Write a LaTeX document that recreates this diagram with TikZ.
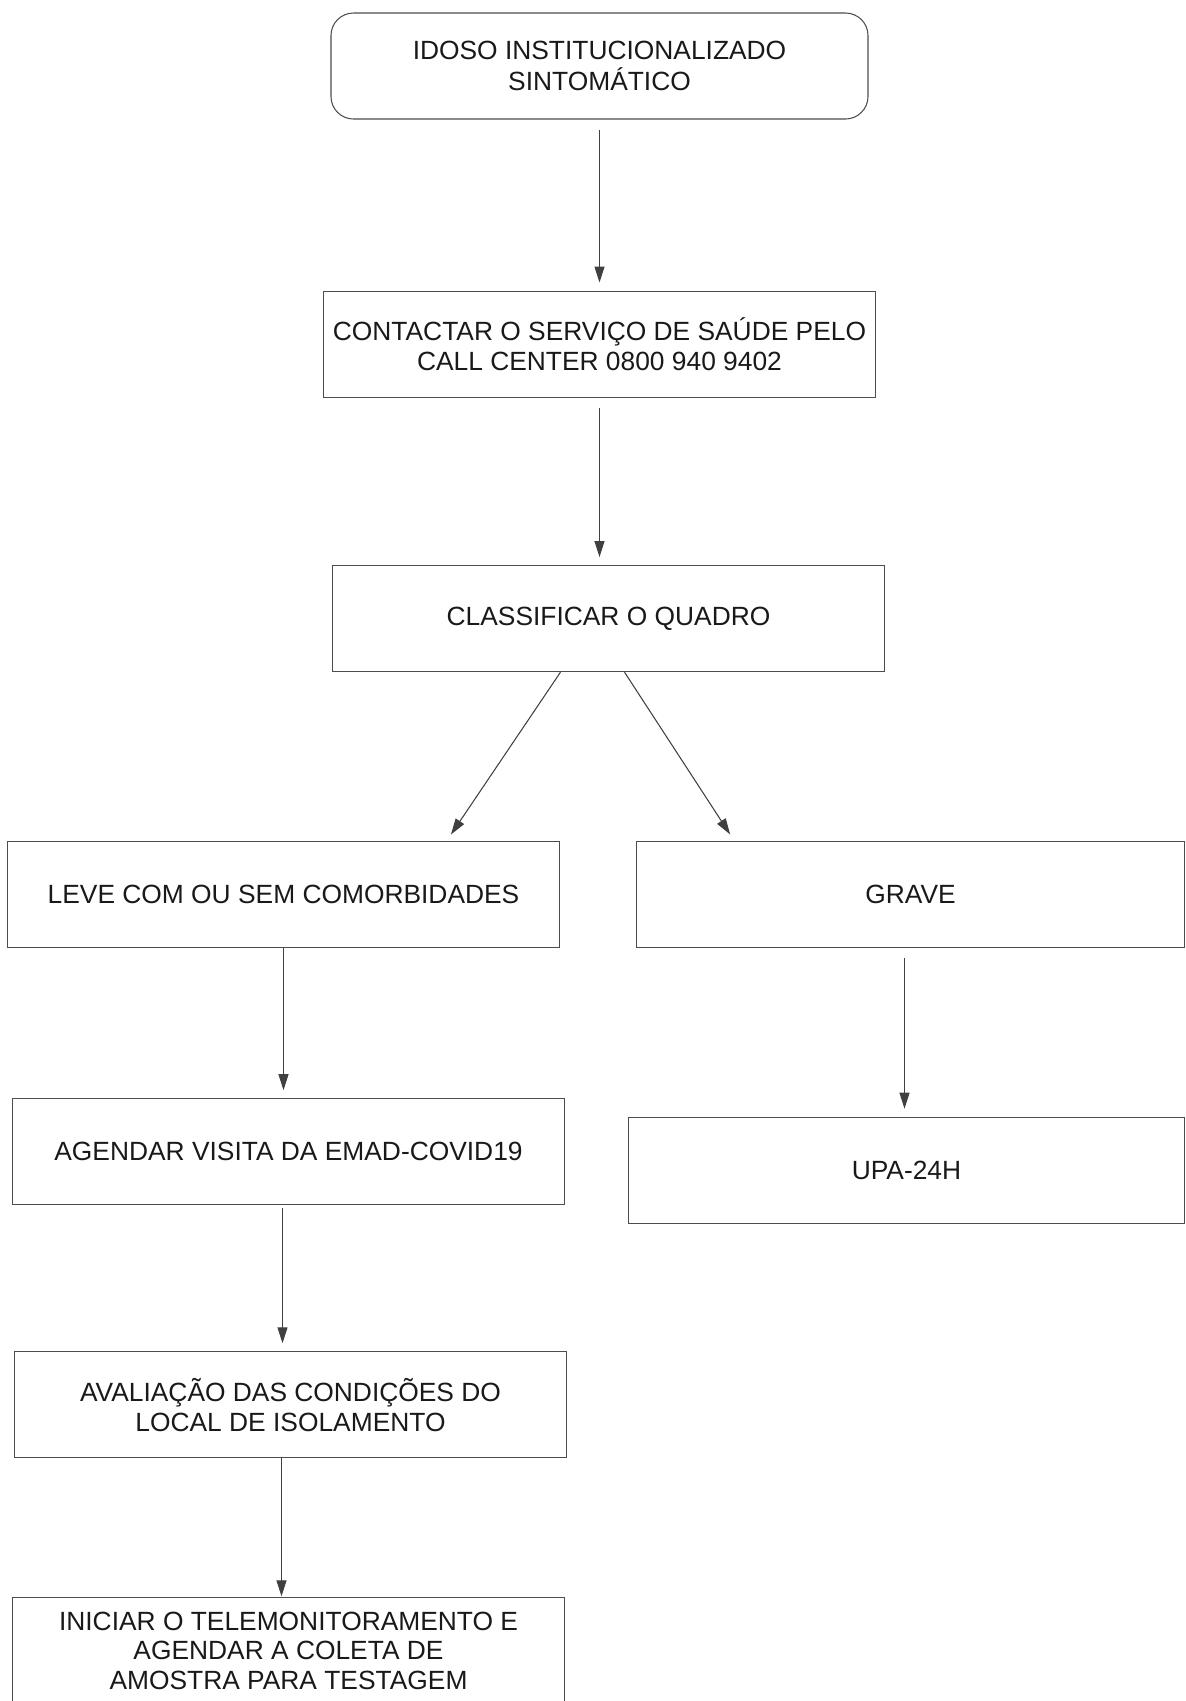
\documentclass[tikz,border=0pt]{standalone}
\usepackage{fontspec}
\setmainfont{Liberation Sans}
\usetikzlibrary{positioning, arrows.meta}

\begin{document}
\begin{tikzpicture}[
    node distance=3.4cm,
    box/.style={draw=black!70, line width=0.6pt, align=center, inner sep=0pt,
        minimum width=11.05cm, minimum height=2.12cm,
        font=\fontsize{15}{17.3}\selectfont, text=black!90},
    arrow/.style={-{Triangle[length=3.2mm, width=2mm]}, draw=black!75, line width=0.6pt,
        shorten <=0.2cm, shorten >=0.16cm}
]
    \useasboundingbox (0,0) rectangle (23.72,-34.02);

    % NODES
    \node[box, rounded corners=0.45cm, minimum width=10.74cm] (idoso) at (11.99,-1.32) {IDOSO INSTITUCIONALIZADO \\ SINTOMÁTICO};
    \node[box, below=3.42cm of idoso] (contato) {CONTACTAR O SERVIÇO DE SAÚDE PELO \\ CALL CENTER 0800 940 9402};
    \node[box, below=3.35cm of contato, xshift=0.18cm] (classificar) {CLASSIFICAR O QUADRO};

    \node[box, below=3.38cm of classificar, xshift=-6.5cm] (leve) {LEVE COM OU SEM COMORBIDADES};
    \node[box, below=3.38cm of classificar, xshift=6.04cm, minimum width=10.96cm] (grave) {GRAVE};

    \node[box, below=3cm of leve, xshift=0.1cm] (agendar) {AGENDAR VISITA DA EMAD-COVID19};
    \node[box, below=3.37cm of grave, xshift=-0.08cm, minimum width=11.12cm] (upa) {UPA-24H};
    \node[box, below=2.92cm of agendar, xshift=0.04cm] (avaliacao) {AVALIAÇÃO DAS CONDIÇÕES DO \\ LOCAL DE ISOLAMENTO};
    \node[box, below=2.78cm of avaliacao, xshift=-0.04cm, font=\fontsize{15}{16.6}\selectfont] (iniciar) {INICIAR O TELEMONITORAMENTO E \\ AGENDAR A COLETA DE \\ AMOSTRA PARA TESTAGEM};

    % EDGES
    \draw[arrow] (idoso) -- (contato);
    \draw[arrow] (contato.south) -- (contato.south |- classificar.north);
    \draw[arrow, shorten <=0pt] ([xshift=-0.96cm]classificar.south) -- ([xshift=3.26cm]leve.north);
    \draw[arrow, shorten <=0pt] ([xshift=0.32cm]classificar.south) -- ([xshift=-3.52cm]grave.north);

    \draw[arrow, shorten <=0pt] (leve.south) -- (leve.south |- agendar.north);
    \draw[arrow] ([xshift=-0.12cm]grave.south) -- ([xshift=-0.12cm]grave.south |- upa.north);
    \draw[arrow, shorten <=0.05cm] ([xshift=-0.12cm]agendar.south) -- ([xshift=-0.12cm]agendar.south |- avaliacao.north);
    \draw[arrow, shorten <=0pt, shorten >=0.02cm] ([xshift=-0.18cm]avaliacao.south) -- ([xshift=-0.18cm]avaliacao.south |- iniciar.north);

\end{tikzpicture}
\end{document}
